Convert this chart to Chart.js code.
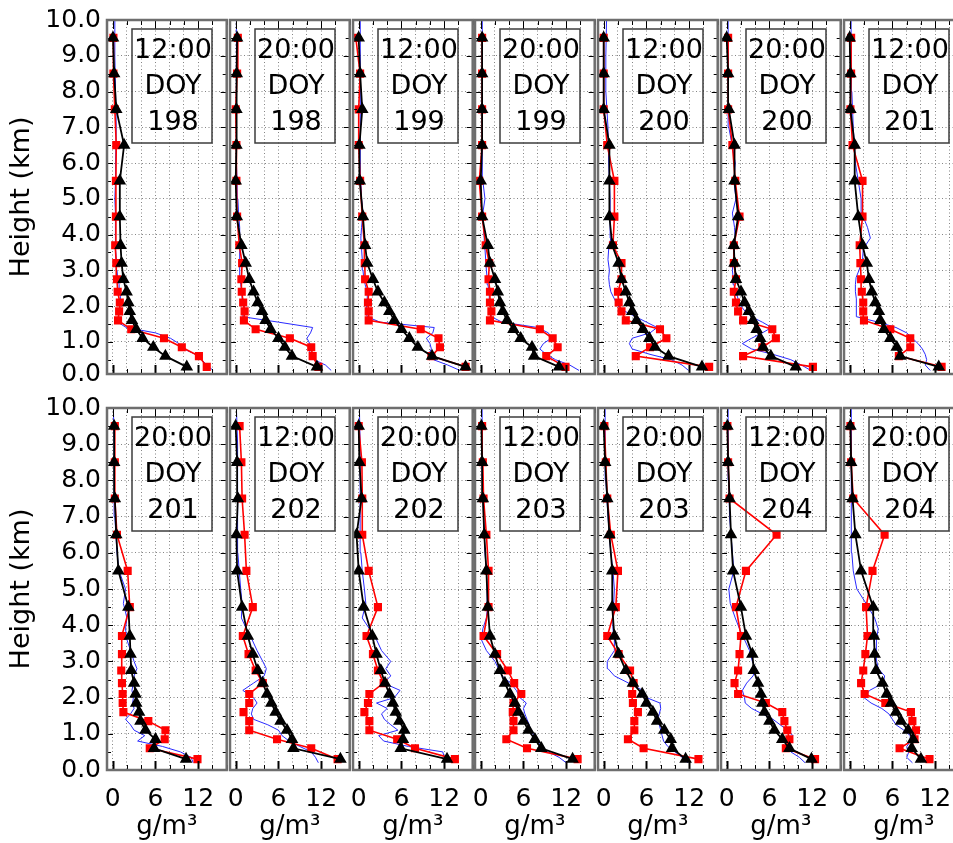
<!DOCTYPE html>
<html>
<head>
<meta charset="utf-8">
<script src="https://cdn.jsdelivr.net/npm/chart.js@4.4.1/dist/chart.umd.min.js"></script>
<style>
  body { margin: 0; background: #fff; width: 953px; height: 843px; overflow: hidden; position: relative; }
  canvas { position: absolute; }
</style>
</head>
<body>
<script>
// panel captions, top row then bottom row, left to right
const panelTime = ['12:00', '20:00', '12:00', '20:00', '12:00', '20:00', '12:00',
                   '20:00', '12:00', '20:00', '12:00', '20:00', '12:00', '20:00'];
const panelDoy = [198, 198, 199, 199, 200, 200, 201, 201, 202, 202, 203, 203, 204, 204];

// heights (km) of the square and triangle profiles
const levelKm = [0.3, 0.6, 0.85, 1.1, 1.35, 1.6, 1.85, 2.1, 2.4, 2.75, 3.2, 3.7, 4.5, 5.5, 6.5, 7.5, 8.5, 9.5];
// heights (km) of the continuous blue profile
const fineKm = [0.2, 0.35, 0.5, 0.65, 0.8, 0.95, 1.1, 1.25, 1.4, 1.55, 1.7, 1.85, 2.0, 2.2, 2.4,
                2.6, 2.8, 3.0, 3.3, 3.6, 3.9, 4.2, 4.6, 5.0, 5.5, 6.0, 7.0, 8.0, 9.0, 10.0];

const xLabelled = [0, 6, 12];

// black triangles, g/m3 at levelKm
const blackProfiles = [
  [10.4, 7.4, 5.7, 4.2, 3.3, 2.7, 2.4, 2.2, 1.95, 1.5, 1.25, 1.1, 1.0, 1.0, 1.6, 0.5, 0.2, 0.05],
  [11.4, 7.9, 6.9, 6.0, 4.9, 4.2, 3.7, 3.1, 2.5, 1.9, 1.4, 0.8, 0.15, 0.0, 0.1, 0.1, 0.15, 0.2],
  [15.0, 10.3, 8.3, 7.1, 6.0, 5.0, 4.3, 3.6, 2.7, 2.0, 1.2, 0.9, 0.6, 0.15, 0.1, 0.5, 0.2, 0.0],
  [11.0, 7.5, 7.2, 5.6, 4.6, 3.7, 3.1, 2.7, 2.4, 2.0, 1.3, 1.0, 0.2, 0.0, 0.2, 0.2, 0.2, 0.2],
  [13.8, 9.1, 7.2, 6.4, 5.5, 4.6, 4.0, 3.6, 3.1, 2.5, 2.1, 1.2, 0.8, 0.8, 0.8, 0.0, 0.0, 0.0],
  [9.7, 6.2, 5.1, 4.7, 4.2, 3.7, 3.1, 2.5, 2.0, 1.3, 1.1, 1.0, 1.6, 1.1, 1.1, 0.3, 0.2, 0.0],
  [12.5, 7.1, 6.6, 5.7, 4.8, 4.3, 4.1, 3.6, 3.1, 2.7, 2.4, 1.8, 1.2, 0.7, 0.7, 0.1, 0.1, 0.0],
  [10.3, 5.8, 6.0, 4.6, 3.9, 3.7, 3.3, 3.2, 3.0, 2.6, 2.5, 2.4, 2.2, 0.8, 0.5, 0.3, 0.2, 0.2],
  [14.7, 8.1, 7.9, 7.2, 6.3, 5.6, 5.0, 4.4, 3.8, 3.1, 2.4, 1.7, 0.9, 0.2, 0.1, 0.3, 0.2, 0.0],
  [12.4, 5.9, 6.2, 6.4, 5.7, 5.2, 4.8, 4.3, 3.7, 3.1, 2.5, 1.9, 0.7, 0.0, -0.3, 0.4, 0.1, 0.0],
  [12.9, 8.5, 7.6, 6.7, 6.0, 5.3, 4.8, 4.1, 3.4, 2.7, 2.0, 1.3, 1.0, 0.8, 0.5, 0.3, 0.2, 0.1],
  [11.5, 9.6, 9.4, 8.5, 7.5, 6.9, 6.0, 5.4, 4.1, 3.1, 2.1, 1.5, 1.2, 1.2, 0.8, 0.5, 0.2, 0.0],
  [11.9, 8.8, 7.8, 6.7, 6.0, 5.3, 5.0, 4.8, 4.4, 3.8, 3.6, 2.7, 2.0, 0.9, 0.6, 0.4, 0.2, 0.1],
  [10.0, 8.7, 8.9, 8.2, 7.2, 6.5, 5.8, 5.2, 4.6, 3.7, 3.5, 3.4, 3.3, 1.6, 0.8, 0.4, 0.2, 0.1]
];

// red squares, g/m3 at levelKm
const redProfiles = [
  [13.2, 12.1, 9.7, 7.2, 2.6, 0.75, 0.9, 1.0, 0.7, 0.6, 0.5, 0.35, 0.45, 0.45, 0.5, 0.3, 0.1, 0.1],
  [11.6, 10.8, 10.6, 7.6, 2.8, 1.15, 1.25, 1.05, 0.85, 0.8, 0.9, 0.5, 0.2, 0.1, 0.1, 0.0, 0.2, 0.3],
  [15.0, 10.2, 11.4, 11.2, 8.7, 1.4, 1.4, 1.3, 1.4, 0.9, 0.85, 0.8, 0.5, 0.2, 0.0, 0.0, 0.2, -0.4],
  [11.9, 9.2, 10.8, 10.1, 8.3, 1.3, 1.5, 1.3, 1.3, 1.1, 1.2, 0.7, 0.2, -0.2, 0.2, 0.2, 0.2, 0.2],
  [14.8, 4.5, 6.5, 8.8, 7.9, 3.1, 2.5, 2.1, 2.0, 2.5, 2.5, 1.3, 1.5, 1.5, 0.5, 0.0, 0.0, 0.0],
  [12.1, 2.3, 5.0, 6.9, 6.4, 2.3, 1.6, 1.3, 1.0, 1.3, 1.0, 1.0, 1.8, 1.2, 0.8, 0.2, 0.2, 0.2],
  [12.9, 6.9, 8.5, 8.5, 5.7, 2.0, 1.9, 1.9, 1.7, 1.6, 1.5, 1.4, 1.8, 1.8, 0.4, 0.1, 0.2, 0.2],
  [11.9, 5.2, 7.3, 7.4, 5.0, 1.5, 1.4, 1.4, 1.3, 1.2, 1.3, 1.3, 2.4, 2.1, 0.6, 0.3, 0.3, 0.3],
  [14.3, 10.6, 5.8, 1.9, 1.9, 1.1, 1.9, 1.9, 3.8, 2.8, 1.8, 1.0, 2.4, 1.5, 1.25, 0.9, 0.8, 0.55],
  [13.5, 7.9, 5.4, 1.5, 1.5, 0.8, 1.3, 1.5, 3.5, 2.7, 2.0, 1.1, 2.7, 1.4, 0.5, 0.5, 0.45, 0.0],
  [13.6, 6.5, 3.6, 4.6, 4.6, 4.5, 4.6, 5.7, 4.7, 3.8, 2.3, 0.4, 1.1, 1.1, 0.8, 0.4, 0.3, 0.2],
  [13.3, 5.6, 3.4, 4.3, 4.3, 4.8, 4.1, 4.0, 4.2, 3.7, 2.1, 0.5, 1.7, 2.0, 1.0, 0.5, 0.3, 0.1],
  [12.4, 8.3, 8.8, 8.5, 8.1, 7.8, 5.5, 1.6, 1.1, 1.6, 1.8, 2.0, 1.3, 2.7, 7.0, 0.4, 0.2, 0.1],
  [11.2, 7.0, 9.1, 9.3, 8.8, 8.6, 5.0, 2.1, 1.6, 1.9, 2.2, 2.5, 2.3, 3.2, 4.9, 0.5, 0.2, 0.1]
];

// blue line, g/m3 at fineKm
const blueProfiles = [
  [14.1, 13.2, 12.5, 11.6, 10.0, 9.3, 8.1, 6.0, 1.9, 0.7, 0.8, 0.9, 1.0, 1.1, 1.0, 0.9, 0.7, 0.6, 0.5, 0.4, 0.35, 0.4, 0.4, 0.3, 0.4, 0.4, 0.5, 0.4, 0.3, 0.3],
  [13.4, 12.6, 11.0, 10.5, 10.3, 10.4, 10.0, 10.5, 10.8, 6.0, 1.0, 1.1, 1.2, 1.0, 0.9, 0.7, 0.6, 0.6, 0.5, 0.6, 0.6, 0.5, 0.4, 0.3, 0.2, 0.1, 0.1, 0.1, 0.1, 0.1],
  [14.2, 12.5, 10.5, 9.8, 10.2, 10.0, 9.5, 10.4, 10.6, 3.0, 1.2, 1.0, 1.1, 1.3, 1.2, 0.9, 0.7, 0.6, 0.5, 0.4, 0.3, 0.4, 0.6, 0.4, 0.3, 0.2, 0.3, 0.2, 0.2, 0.2],
  [13.8, 12.5, 10.5, 9.2, 8.3, 8.8, 9.9, 9.5, 8.0, 3.0, 1.5, 1.3, 1.4, 1.3, 1.2, 1.0, 0.9, 0.8, 0.7, 0.6, 0.5, 0.4, 0.3, 0.6, 0.3, 0.3, 0.2, 0.2, 0.2, 0.2],
  [11.9, 11.0, 9.5, 6.5, 4.0, 3.6, 4.0, 6.5, 7.5, 6.0, 4.5, 3.0, 2.0, 1.5, 1.0, 0.8, 0.7, 0.8, 0.6, 0.7, 1.0, 0.9, 0.9, 0.9, 0.8, 0.7, 0.6, 0.3, 0.3, 0.4],
  [11.8, 10.5, 9.0, 6.5, 3.5, 2.2, 3.5, 5.0, 6.3, 5.0, 3.5, 2.6, 2.0, 1.6, 1.3, 1.0, 0.9, 0.8, 0.9, 1.0, 1.2, 1.1, 0.8, 1.3, 1.0, 1.2, 0.3, 0.2, 0.2, 0.2],
  [11.3, 10.6, 10.8, 10.6, 10.2, 9.6, 8.8, 8.0, 6.5, 4.0, 1.0, 1.0, 0.9, 0.9, 0.8, 0.8, 0.9, 1.3, 1.8, 1.9, 2.9, 2.5, 1.7, 1.6, 1.2, 0.8, 0.5, 0.3, 0.2, 0.2],
  [11.3, 11.0, 9.5, 7.0, 3.5, 4.5, 3.0, 2.5, 1.8, 2.5, 3.0, 2.8, 2.9, 2.7, 2.9, 3.0, 3.4, 3.0, 2.5, 2.0, 1.8, 2.0, 1.5, 1.8, 0.9, 0.6, 0.3, 0.2, 0.2, 0.1],
  [11.6, 11.2, 10.6, 9.0, 7.5, 6.5, 6.0, 4.5, 2.5, 2.2, 2.4, 3.0, 2.5, 1.0, 2.5, 4.0, 4.3, 3.8, 3.0, 2.3, 1.5, 0.8, 0.9, 0.7, 0.5, 0.3, 0.3, 0.3, 0.2, 0.1],
  [12.0, 12.0, 11.8, 7.0, 3.5, 2.8, 5.5, 4.5, 3.6, 3.2, 4.0, 2.5, 5.0, 5.8, 3.5, 4.5, 3.8, 4.5, 3.2, 2.5, 1.5, 0.5, 1.0, 0.8, 0.5, 0.3, 0.2, 0.2, 0.2, 0.1],
  [12.0, 11.0, 9.5, 8.5, 8.0, 7.5, 7.0, 6.8, 6.5, 6.2, 6.0, 6.4, 5.5, 5.0, 4.2, 3.0, 2.5, 2.0, 0.8, 0.1, 0.3, 0.8, 1.0, 0.9, 0.8, 0.6, 0.4, 0.3, 0.2, 0.2],
  [11.8, 11.0, 10.0, 9.0, 8.4, 8.2, 8.0, 7.8, 7.6, 7.8, 8.0, 7.9, 6.0, 5.5, 3.5, 1.5, 0.6, 0.5, 1.5, 1.5, 1.3, 1.3, 1.4, 1.5, 1.3, 1.0, 0.6, 0.3, 0.2, 0.2],
  [11.0, 10.2, 9.0, 8.5, 8.8, 9.3, 8.5, 7.5, 6.5, 5.0, 3.5, 2.6, 2.5, 2.2, 2.8, 3.7, 4.1, 3.6, 3.2, 2.5, 1.8, 1.2, 0.5, 0.3, 1.0, 0.8, 0.4, 0.3, 0.2, 0.2],
  [8.8, 8.0, 8.3, 8.0, 8.6, 8.5, 7.6, 6.5, 6.0, 5.5, 4.5, 3.0, 2.0, 2.8, 4.7, 4.9, 4.0, 3.8, 3.7, 3.8, 4.0, 3.5, 2.3, 1.0, 0.5, 0.3, 0.3, 0.2, 0.2, 0.2]
];

Chart.defaults.font.family = '"DejaVu Sans", sans-serif';
Chart.defaults.color = '#000';

const plotW = 121;
const rows = [
  { top: 20, height: 354, yMin: 0.1 },
  { top: 408, height: 362, yMin: 0 }
];
const colLeft = i => Math.round(107 + i * 122.8);

const toPoints = (xs, ys) => xs.map((v, i) => ({ x: v, y: ys[i] }));

// frame, inward ticks and caption box of one panel
const panelDecor = {
  id: 'panelDecor',
  afterDraw(chart, args, opts) {
    const { ctx, chartArea: a, scales: { x, y } } = chart;
    ctx.save();
    ctx.strokeStyle = '#000';
    const seg = (x1, y1, x2, y2, w) => {
      ctx.lineWidth = w;
      ctx.beginPath(); ctx.moveTo(x1, y1); ctx.lineTo(x2, y2); ctx.stroke();
    };
    for (let v = 0; v <= 16; v += 2) {
      const px = Math.round(x.getPixelForValue(v)) + 0.5;
      const major = xLabelled.includes(v);
      const len = major ? 9 : 5;
      seg(px, a.bottom, px, a.bottom - len, major ? 2 : 1);
      seg(px, a.top, px, a.top + len, 1);
    }
    for (let v = 0.5; v < 10; v += 0.5) {
      if (v < y.min) continue;
      const py = Math.round(y.getPixelForValue(v)) + 0.5;
      const len = Number.isInteger(v) ? 6 : 4;
      seg(a.left, py, a.left + len, py, 1);
      seg(a.right, py, a.right - len, py, 1);
    }
    ctx.strokeStyle = '#6e6e6e';
    ctx.lineWidth = 2.5;
    ctx.strokeRect(a.left, a.top, a.right - a.left, a.bottom - a.top);

    const bx = a.left + 25, by = a.top + 9;
    ctx.strokeStyle = '#3c3c3c';
    ctx.lineWidth = 1.5;
    ctx.strokeRect(bx, by, 80, 114);
    ctx.fillStyle = '#000';
    ctx.font = '27px "DejaVu Sans"';
    ctx.textAlign = 'center';
    ctx.textBaseline = 'middle';
    [opts.time, 'DOY', String(opts.day)].forEach((t, i) => ctx.fillText(t, bx + 41, by + 22 + i * 36));
    ctx.restore();
  }
};

for (let p = 0; p < 14; p++) {
  const r = Math.floor(p / 7), c = p % 7;
  const row = rows[r];
  const ml = c === 0 ? 107 : 12, mr = 6;
  const mt = 20, mb = r === 1 ? 843 - (row.top + row.height) : 16;

  const cv = document.createElement('canvas');
  cv.width = ml + plotW + mr;
  cv.height = mt + row.height + mb;
  cv.style.left = (colLeft(c) - ml) + 'px';
  cv.style.top = (row.top - mt) + 'px';
  document.body.appendChild(cv);

  new Chart(cv, {
    type: 'scatter',
    data: {
      datasets: [
        {
          data: toPoints(blackProfiles[p], levelKm),
          showLine: true, borderColor: '#000', backgroundColor: '#000',
          borderWidth: 1.8, pointStyle: 'triangle', pointRadius: 5.5, order: 0
        },
        {
          data: toPoints(redProfiles[p], levelKm),
          showLine: true, borderColor: '#ff0000', backgroundColor: '#ff0000',
          borderWidth: 1.6, pointStyle: 'rect', pointRadius: 4.6, order: 1
        },
        {
          data: toPoints(blueProfiles[p], fineKm),
          showLine: true, borderColor: '#2a2aff', borderWidth: 1,
          pointRadius: 0, order: 2
        }
      ]
    },
    options: {
      responsive: false,
      animation: false,
      events: [],
      layout: { padding: { top: mt, right: mr, left: 0, bottom: 0 } },
      plugins: {
        legend: { display: false },
        tooltip: { enabled: false },
        panelDecor: { time: panelTime[p], day: panelDoy[p] }
      },
      scales: {
        x: {
          type: 'linear', min: -0.8, max: 16,
          afterFit: s => { s.height = mb; },
          ticks: {
            display: r === 1, stepSize: 2, includeBounds: false, autoSkip: false,
            maxRotation: 0, padding: 0, font: { size: 25 },
            callback: v => xLabelled.includes(v) ? String(v) : ''
          },
          grid: { color: '#858585', lineWidth: 1, drawTicks: true, tickLength: 14, tickColor: 'rgba(0,0,0,0)' },
          border: { display: false, dash: [1, 2.5] },
          title: { display: r === 1, text: 'g/m³', font: { size: 26 }, padding: 0 }
        },
        y: {
          type: 'linear', min: row.yMin, max: 10,
          afterFit: s => { s.width = ml; },
          ticks: {
            display: c === 0, stepSize: 1, autoSkip: false, padding: 0, font: { size: 25 },
            callback: v => (v < 0.5 ? 0 : v).toFixed(1)
          },
          grid: { color: '#858585', lineWidth: 1, drawTicks: true, tickLength: 6, tickColor: 'rgba(0,0,0,0)' },
          border: { display: false, dash: [1, 2.5] },
          title: { display: c === 0, text: 'Height (km)', font: { size: 27 }, padding: { top: 6, bottom: 0 } }
        }
      }
    },
    plugins: [panelDecor]
  });
}
</script>
</body>
</html>
